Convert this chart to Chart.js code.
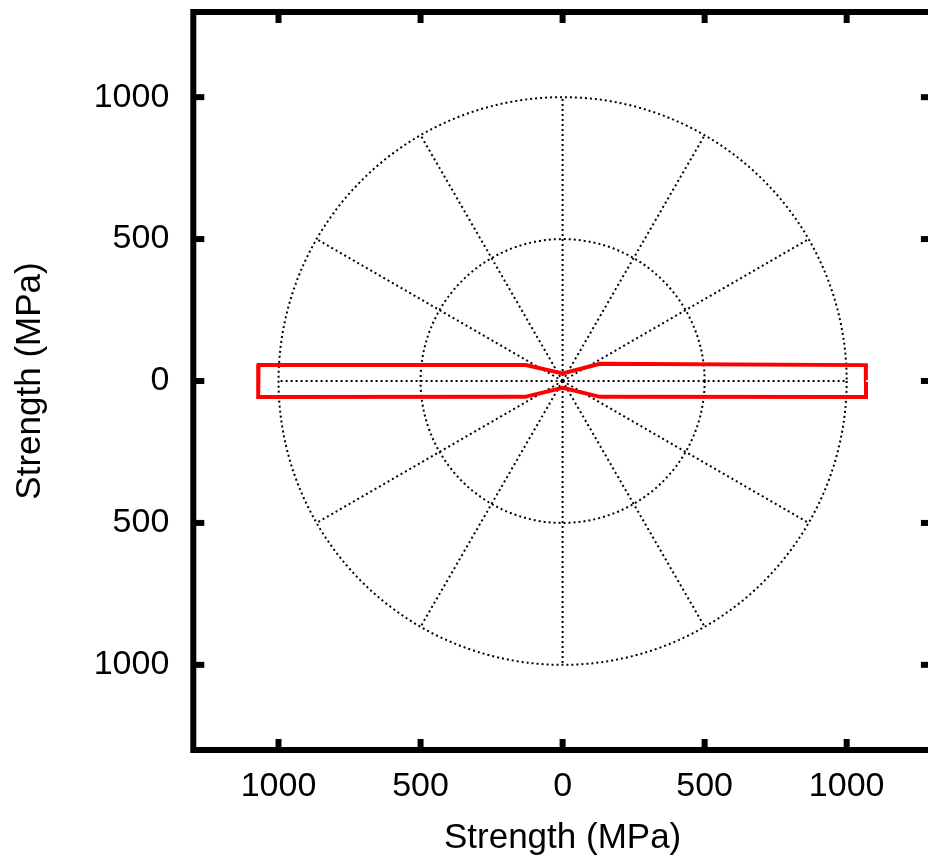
<!DOCTYPE html>
<html>
<head>
<meta charset="utf-8">
<script src="https://cdn.jsdelivr.net/npm/chart.js@4.4.1/dist/chart.umd.min.js"></script>
<style>
html,body{margin:0;padding:0;overflow:hidden;background:#fff;width:928px;height:861px}
canvas{display:block}
</style>
</head>
<body>
<canvas id="c" width="940" height="861" style="width:940px;height:861px"></canvas>
<script>
// Polar strength envelope (angle in degrees, strength in MPa)
const angleDeg    = [0.2, 3.0, 24.8, 90, 156.5, 177.0, 183.0, 203.0, 270, 337.0, 357.0, 359.8];
const strengthMPa = [1068, 1069, 145, 27, 141, 1072, 1073, 143, 24, 143, 1069, 1068];

// Axis ticks (both axes) and labels
const tickValues = [-1000, -500, 0, 500, 1000];
const tickLabels = ['1000', '500', '0', '500', '1000'];
const axisMin = -1300, axisMax = 1300;
const axisTitle = 'Strength (MPa)';

// Polar grid
const gridRadii  = [500, 1000];
const gridAngles = [0, 30, 60, 90, 120, 150, 180, 210, 240, 270, 300, 330];

const points = angleDeg.map((a, i) => ({
  x: strengthMPa[i] * Math.cos(a * Math.PI / 180),
  y: strengthMPa[i] * Math.sin(a * Math.PI / 180)
}));

const FONT = "'Liberation Sans', Arial, Helvetica, sans-serif";
const tickFont = {family: FONT, size: 34};
const titleFont = {family: FONT, size: 35};

const polarFrame = {
  id: 'polarFrame',
  beforeDatasetsDraw(chart) {
    const {ctx, chartArea: a} = chart;
    const xs = chart.scales.x, ys = chart.scales.y;
    const cx = xs.getPixelForValue(0), cy = ys.getPixelForValue(0);
    ctx.save();
    ctx.beginPath(); ctx.rect(a.left, a.top, a.right - a.left, a.bottom - a.top); ctx.clip();
    ctx.strokeStyle = '#000';
    ctx.lineWidth = 2;
    ctx.setLineDash([2, 3]);
    gridRadii.forEach(r => {
      const rx = xs.getPixelForValue(r) - cx, ry = cy - ys.getPixelForValue(r);
      ctx.beginPath(); ctx.ellipse(cx, cy, rx, ry, 0, 0, 2 * Math.PI); ctx.stroke();
    });
    const rmax = Math.max(...gridRadii);
    gridAngles.forEach(d => {
      const t = d * Math.PI / 180;
      ctx.beginPath();
      ctx.moveTo(cx, cy);
      ctx.lineTo(xs.getPixelForValue(rmax * Math.cos(t)), ys.getPixelForValue(rmax * Math.sin(t)));
      ctx.stroke();
    });
    ctx.restore();
  },
  afterDatasetsDraw(chart) {
    const {ctx, chartArea: a} = chart;
    const xs = chart.scales.x, ys = chart.scales.y;
    ctx.save();
    ctx.setLineDash([]);
    ctx.strokeStyle = '#000';
    ctx.lineWidth = 6;
    ctx.lineJoin = 'miter';
    ctx.strokeRect(a.left, a.top, a.right - a.left, a.bottom - a.top);
    const L = 11;
    const seg = (x1, y1, x2, y2) => { ctx.beginPath(); ctx.moveTo(x1, y1); ctx.lineTo(x2, y2); ctx.stroke(); };
    tickValues.forEach(v => {
      const px = xs.getPixelForValue(v);
      seg(px, a.bottom, px, a.bottom - L);
      seg(px, a.top, px, a.top + L);
      const py = ys.getPixelForValue(v);
      seg(a.left, py, a.left + L, py);
      seg(a.right, py, a.right - L, py);
    });
    ctx.restore();
  }
};

const setTicks = s => { s.ticks = tickValues.map(v => ({value: v})); };
const labelFor = (v, i) => tickLabels[i];

new Chart(document.getElementById('c'), {
  type: 'scatter',
  data: {
    datasets: [{
      label: 'Strength',
      data: points,
      showLine: true,
      borderColor: '#ff0000',
      backgroundColor: '#ff0000',
      borderWidth: 4,
      pointRadius: 0,
      fill: false,
      tension: 0,
      borderJoinStyle: 'miter',
      borderCapStyle: 'butt'
    }]
  },
  options: {
    responsive: false,
    animation: false,
    devicePixelRatio: 1,
    layout: {padding: {left: 0, top: 12, right: 8.1, bottom: 0}},
    plugins: {legend: {display: false}, tooltip: {enabled: false}},
    scales: {
      x: {
        type: 'linear', position: 'bottom', min: axisMin, max: axisMax,
        grid: {display: false, drawTicks: false},
        border: {display: false},
        ticks: {font: tickFont, color: '#000', padding: 16, maxRotation: 0, autoSkip: false, callback: labelFor},
        title: {display: true, text: axisTitle, font: titleFont, color: '#000', padding: {top: 0, bottom: 2}},
        afterBuildTicks: setTicks,
        afterFit: s => { s.height = 111; s.paddingLeft = 0; s.paddingRight = 0; }
      },
      y: {
        type: 'linear', position: 'left', min: axisMin, max: axisMax,
        grid: {display: false, drawTicks: false},
        border: {display: false},
        ticks: {font: tickFont, color: '#000', padding: 24, autoSkip: false, callback: labelFor},
        title: {display: true, text: axisTitle, font: titleFont, color: '#000', padding: {top: 9, bottom: 0}},
        afterBuildTicks: setTicks,
        afterFit: s => { s.width = 193.3; s.paddingTop = 0; s.paddingBottom = 0; }
      }
    }
  },
  plugins: [polarFrame]
});
</script>
</body>
</html>
